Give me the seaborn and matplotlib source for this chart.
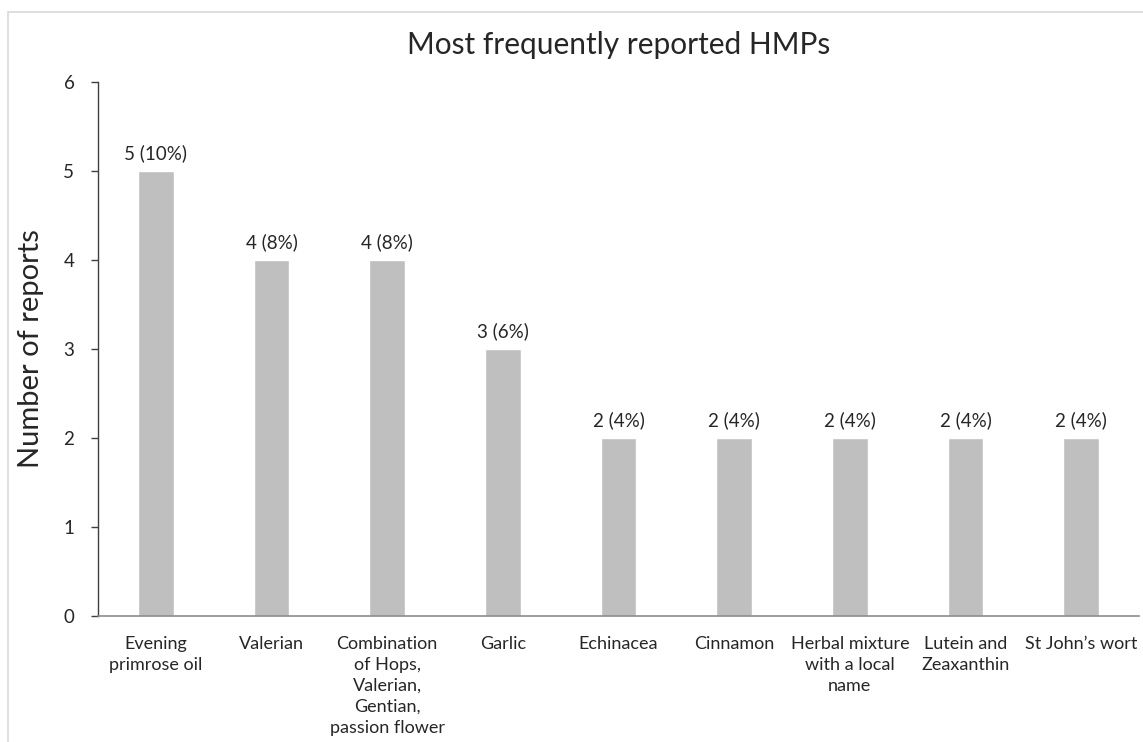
import numpy as np
import matplotlib.pyplot as plt
import seaborn as sns
import pandas as pd
from matplotlib.patches import Rectangle

products = ["Evening\nprimrose oil", "Valerian",
            "Combination\nof Hops,\nValerian,\nGentian,\npassion flower",
            "Garlic", "Echinacea", "Cinnamon",
            "Herbal mixture\nwith a local\nname", "Lutein and\nZeaxanthin",
            "St John\u2019s wort"]
reports = [5, 4, 4, 3, 2, 2, 2, 2, 2]
percents = [10, 8, 8, 6, 4, 4, 4, 4, 4]

df = pd.DataFrame({"product": products, "reports": reports})

sns.set_style("white")
plt.rcParams['font.family'] = ['Lato', 'DejaVu Sans']

fig = plt.figure(figsize=(11.43, 7.42), dpi=100)
ax = fig.add_axes([98 / 1143, 1 - 616 / 742, 1041 / 1143, 534 / 742])

# outer chart frame
fig.patches.append(Rectangle((8 / 1143, -0.1), 1.2, 1 - 12 / 742 + 0.1,
                             transform=fig.transFigure, fill=False,
                             edgecolor="#d9d9d9", linewidth=1.2))

sns.barplot(data=df, x="product", y="reports", color="#bfbfbf",
            width=0.31, saturation=1, ax=ax)

for i, (n, p) in enumerate(zip(reports, percents)):
    ax.annotate(f"{n} ({p}%)", (i, n), xytext=(0, 6.5), textcoords="offset points",
                ha="center", va="bottom", fontsize=13.5, color="#262626")

ax.set_ylim(0, 6)
ax.set_yticks(range(7))
ax.set_xlim(-0.5, len(products) - 0.5)
ax.set_xlabel("")
ax.set_ylabel("Number of reports", fontsize=21, color="#262626", labelpad=14)
ax.set_title("Most frequently reported HMPs", fontsize=21.5, color="#262626", pad=20)

for s in ["top", "right"]:
    ax.spines[s].set_visible(False)
ax.spines["left"].set_color("#404040")
ax.spines["left"].set_linewidth(1)
ax.spines["bottom"].set_color("#8c8c8c")
ax.spines["bottom"].set_linewidth(1.2)

ax.tick_params(axis="y", left=True, length=5, width=1, color="#404040",
               labelsize=13.5, labelcolor="#262626", pad=12)
ax.tick_params(axis="x", bottom=False, labelsize=13, labelcolor="#262626", pad=11)
for lab in ax.get_xticklabels():
    lab.set_linespacing(1.38)

fig.savefig("out.png", dpi=100)
